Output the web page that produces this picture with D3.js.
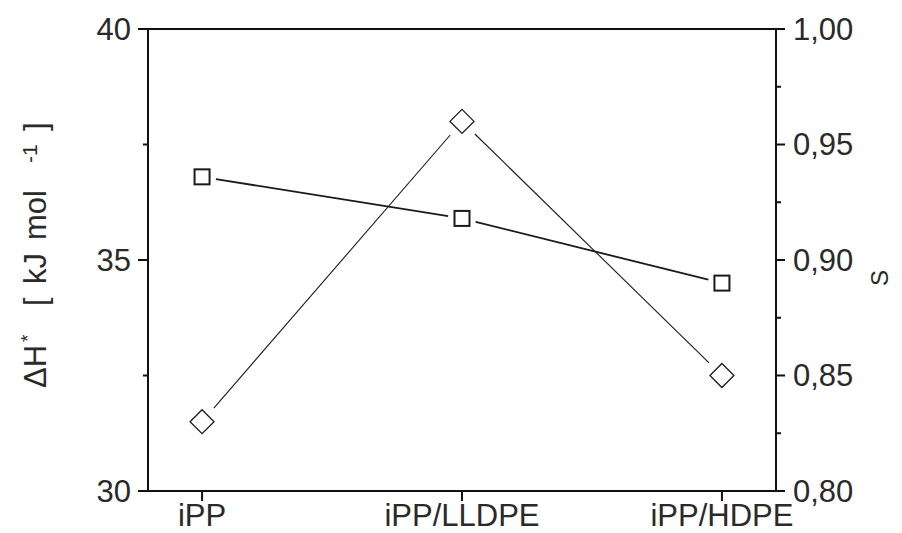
<!DOCTYPE html>
<html lang="en">
<head>
    <meta charset="UTF-8">
    <title>dH and S by blend</title>
    <script src="https://d3js.org/d3.v7.min.js"></script>
    <style>
        body {
            margin: 0;
            padding: 0;
            background-color: #fff;
        }
        svg {
            display: block;
            background-color: #fff;
            font-family: 'Liberation Sans', Arial, sans-serif;
        }
        .tick-label {
            font-size: 31px;
            fill: #2a2a2a;
        }
        .frame {
            fill: none;
            stroke: #111;
            stroke-width: 2px;
        }
    </style>
</head>
<body>
    <svg width="902" height="533"></svg>
    <script>
        const categories = ["iPP", "iPP/LLDPE", "iPP/HDPE"];
        const enthalpy = [36.8, 35.9, 34.5];      // squares, left axis
        const order = [0.83, 0.96, 0.85];         // diamonds, right axis
        const leftTicks = [30, 35, 40];
        const leftMinor = [32.5, 37.5];
        const rightTicks = [0.80, 0.85, 0.90, 0.95, 1.00];
        const rightMinor = [0.825, 0.875, 0.925, 0.975];

        const width = 902, height = 533;
        const margin = { left: 148, right: 126, top: 29, bottom: 42 };
        const svg = d3.select("svg");

        const x = d3.scalePoint()
            .domain(categories)
            .range([margin.left, width - margin.right])
            .padding(0.208);
        const yL = d3.scaleLinear().domain([30, 40]).range([height - margin.bottom, margin.top]);
        const yR = d3.scaleLinear().domain([0.80, 1.00]).range([height - margin.bottom, margin.top]);

        const x0 = margin.left, x1 = width - margin.right;
        const yb = height - margin.bottom, yt = margin.top;

        // frame
        svg.append("rect")
            .attr("class", "frame")
            .attr("x", x0).attr("y", yt)
            .attr("width", x1 - x0).attr("height", yb - yt);

        const comma = d3.format(".2f");

        // left axis
        const gL = svg.append("g").attr("transform", `translate(${x0},0)`);
        gL.selectAll(".maj").data(leftTicks).enter().append("line")
            .attr("x1", -10).attr("x2", 0)
            .attr("y1", d => yL(d)).attr("y2", d => yL(d))
            .attr("stroke", "#111").attr("stroke-width", 2);
        gL.selectAll(".min").data(leftMinor).enter().append("line")
            .attr("x1", -5).attr("x2", 0)
            .attr("y1", d => yL(d)).attr("y2", d => yL(d))
            .attr("stroke", "#111").attr("stroke-width", 2);
        gL.selectAll("text").data(leftTicks).enter().append("text")
            .attr("class", "tick-label")
            .attr("x", -17).attr("y", d => yL(d))
            .attr("dy", "0.35em")
            .attr("text-anchor", "end")
            .text(d => d);

        // right axis
        const gR = svg.append("g").attr("transform", `translate(${x1},0)`);
        gR.selectAll(".maj").data(rightTicks).enter().append("line")
            .attr("x1", 0).attr("x2", 9)
            .attr("y1", d => yR(d)).attr("y2", d => yR(d))
            .attr("stroke", "#111").attr("stroke-width", 2);
        gR.selectAll(".min").data(rightMinor).enter().append("line")
            .attr("x1", 0).attr("x2", 5)
            .attr("y1", d => yR(d)).attr("y2", d => yR(d))
            .attr("stroke", "#111").attr("stroke-width", 2);
        gR.selectAll("text").data(rightTicks).enter().append("text")
            .attr("class", "tick-label")
            .attr("x", 17).attr("y", d => yR(d))
            .attr("dy", "0.35em")
            .text(d => comma(d).replace(".", ","));

        // bottom axis
        const gB = svg.append("g").attr("transform", `translate(0,${yb})`);
        gB.selectAll("line").data(categories).enter().append("line")
            .attr("x1", d => x(d)).attr("x2", d => x(d))
            .attr("y1", 0).attr("y2", 10)
            .attr("stroke", "#111").attr("stroke-width", 2);
        gB.selectAll("text").data(categories).enter().append("text")
            .attr("class", "tick-label")
            .attr("x", d => x(d)).attr("y", 35)
            .attr("text-anchor", "middle")
            .text(d => d);

        // left title, pieces placed along the rotated baseline
        const yTitle = svg.append("text")
            .attr("transform", "translate(46,0) rotate(-90)")
            .style("font-size", "31px")
            .style("fill", "#2a2a2a");
        yTitle.append("tspan").attr("x", -388).attr("y", 0).text("ΔH");
        yTitle.append("tspan").attr("x", -342).attr("y", -12).style("font-size", "19px").text("*");
        yTitle.append("tspan").attr("x", -306).attr("y", 0).text("[");
        yTitle.append("tspan").attr("x", -284).attr("y", 0).text("kJ");
        yTitle.append("tspan").attr("x", -240).attr("y", 0).text("mol");
        yTitle.append("tspan").attr("x", -163).attr("y", -9).style("font-size", "21px").text("-1");
        yTitle.append("tspan").attr("x", -131).attr("y", 0).text("]");

        svg.append("text")
            .attr("transform", `translate(888,278) rotate(-90)`)
            .attr("text-anchor", "middle")
            .style("font-size", "24px")
            .style("fill", "#2a2a2a")
            .text("S");

        // connecting segments, stopped short of the markers
        function segments(vals, yScale, gap) {
            const pts = vals.map((v, i) => [x(categories[i]), yScale(v)]);
            const out = [];
            for (let i = 0; i < pts.length - 1; i++) {
                const [ax, ay] = pts[i], [bx, by] = pts[i + 1];
                const len = Math.hypot(bx - ax, by - ay);
                const ux = (bx - ax) / len, uy = (by - ay) / len;
                out.push([ax + ux * gap, ay + uy * gap, bx - ux * gap, by - uy * gap]);
            }
            return out;
        }

        svg.selectAll(".seg-sq").data(segments(enthalpy, yL, 14)).enter().append("line")
            .attr("x1", d => d[0]).attr("y1", d => d[1])
            .attr("x2", d => d[2]).attr("y2", d => d[3])
            .attr("stroke", "#1a1a1a").attr("stroke-width", 1.8);

        svg.selectAll(".seg-di").data(segments(order, yR, 18)).enter().append("line")
            .attr("x1", d => d[0]).attr("y1", d => d[1])
            .attr("x2", d => d[2]).attr("y2", d => d[3])
            .attr("stroke", "#1a1a1a").attr("stroke-width", 1.1);

        // markers
        svg.selectAll(".sq").data(enthalpy).enter().append("rect")
            .attr("x", (d, i) => x(categories[i]) - 7.5)
            .attr("y", d => yL(d) - 7.5)
            .attr("width", 15).attr("height", 15)
            .attr("fill", "#fff")
            .attr("stroke", "#1a1a1a").attr("stroke-width", 2);

        const diamond = "M0,-12L12,0L0,12L-12,0Z";
        svg.selectAll(".di").data(order).enter().append("path")
            .attr("d", diamond)
            .attr("transform", (d, i) => `translate(${x(categories[i])},${yR(d)})`)
            .attr("fill", "#fff")
            .attr("stroke", "#1a1a1a").attr("stroke-width", 1.3);
    </script>
</body>
</html>
